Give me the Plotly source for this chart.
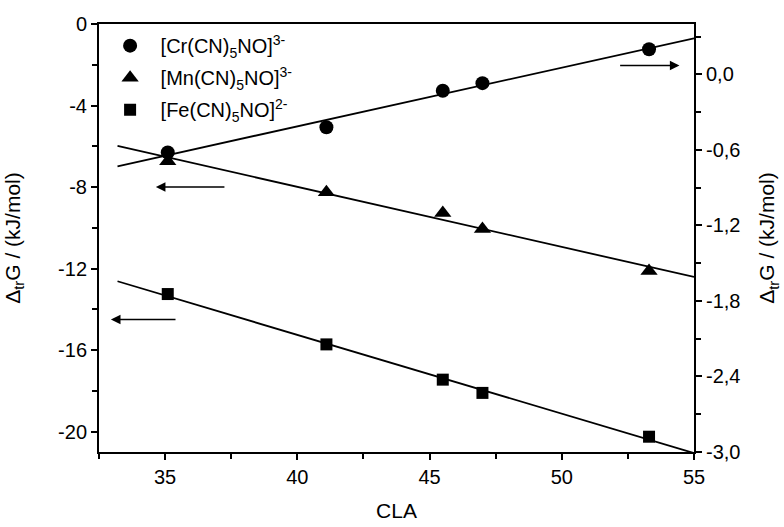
import numpy as np
import plotly.graph_objects as go

# ---- data ----
cla = [35.1, 41.1, 45.5, 47.0, 53.3]
cr_dG = [-0.62, -0.42, -0.13, -0.07, 0.20]        # right axis
mn_dG = [-6.73, -8.25, -9.27, -10.06, -12.12]     # left axis
fe_dG = [-13.25, -15.72, -17.45, -18.10, -20.25]  # left axis

names = ["[Cr(CN)<sub>5</sub>NO]<sup>3-</sup>",
         "[Mn(CN)<sub>5</sub>NO]<sup>3-</sup>",
         "[Fe(CN)<sub>5</sub>NO]<sup>2-</sup>"]

x_ticks = [35, 40, 45, 50, 55]
x_ticklabels = ["35", "40", "45", "50", "55"]
left_ticks = [0, -4, -8, -12, -16, -20]
left_ticklabels = ["0", "-4", "-8", "-12", "-16", "-20"]
right_ticks = [0.0, -0.6, -1.2, -1.8, -2.4, -3.0]
right_ticklabels = ["0,0", "-0,6", "-1,2", "-1,8", "-2,4", "-3,0"]

fit_range = [33.2, 55.0]

FONT = "Arial, Liberation Sans, sans-serif"

fig = go.Figure()

def fit_line(y, yaxis):
    k, b = np.polyfit(cla, y, 1)
    xs = np.array(fit_range)
    fig.add_trace(go.Scatter(x=xs, y=k * xs + b, mode="lines", yaxis=yaxis,
                             line=dict(color="black", width=1.8),
                             showlegend=False, hoverinfo="skip"))

fit_line(cr_dG, "y2")
fit_line(mn_dG, "y")
fit_line(fe_dG, "y")

fig.add_trace(go.Scatter(x=cla, y=cr_dG, mode="markers", yaxis="y2", name=names[0], legendgroup="a",
                         marker=dict(symbol="circle", size=14, color="black")))
fig.add_trace(go.Scatter(x=cla, y=mn_dG, mode="markers", yaxis="y", name=names[1], legendgroup="b",
                         marker=dict(symbol="triangle-up", size=15, color="black")))
fig.add_trace(go.Scatter(x=cla, y=fe_dG, mode="markers", yaxis="y", name=names[2], legendgroup="c",
                         marker=dict(symbol="square", size=12, color="black")))

# arrows pointing to the relevant axis
arrow_style = dict(showarrow=True, arrowhead=2, arrowsize=1.2, arrowwidth=1.6,
                   arrowcolor="black", text="", axref="x")
fig.add_annotation(x=54.45, y=0.07, ax=52.15, ay=0.07, xref="x", yref="y2", ayref="y2", **arrow_style)
fig.add_annotation(x=34.65, y=-8.0, ax=37.3, ay=-8.0, xref="x", yref="y", ayref="y", **arrow_style)
fig.add_annotation(x=32.95, y=-14.5, ax=35.45, ay=-14.5, xref="x", yref="y", ayref="y", **arrow_style)

axis_common = dict(showline=True, linecolor="black", linewidth=2, showgrid=False,
                   zeroline=False, ticks="outside", ticklen=6, tickwidth=1.5, automargin=False,
                   tickcolor="black", tickfont=dict(family=FONT, size=20, color="black"))

fig.update_layout(
    template="none",
    width=784, height=527,
    margin=dict(l=99, r=90, t=24, b=75, pad=0),
    paper_bgcolor="white", plot_bgcolor="white",
    font=dict(family=FONT, size=20, color="black"),
    xaxis=dict(range=[32.5, 55], tickmode="array", tickvals=x_ticks, ticktext=x_ticklabels,
               mirror=True,
               minor=dict(tickmode="linear", tick0=32.5, dtick=2.5, ticks="outside",
                          ticklen=5, tickwidth=1.5, tickcolor="black"),
               title=dict(text="CLA", font=dict(family=FONT, size=21), standoff=16),
               **axis_common),
    yaxis=dict(range=[-21, 0], tickmode="array", tickvals=left_ticks, ticktext=left_ticklabels,
               minor=dict(tickmode="linear", tick0=0, dtick=2, ticks="outside",
                          ticklen=5, tickwidth=1.5, tickcolor="black"),
               title=dict(text="Δ<sub>tr</sub>G / (kJ/mol)", font=dict(family=FONT, size=21), standoff=32),
               **axis_common),
    yaxis2=dict(range=[-3.0, 0.4], overlaying="y", side="right",
                tickmode="array", tickvals=right_ticks, ticktext=right_ticklabels,
                minor=dict(tickmode="linear", tick0=0, dtick=0.3, ticks="outside",
                           ticklen=5, tickwidth=1.5, tickcolor="black"),
                title=dict(text="Δ<sub>tr</sub>G / (kJ/mol)", font=dict(family=FONT, size=21), standoff=20),
                **axis_common),
    legend=dict(x=0.001, y=0.995, xanchor="left", yanchor="top",
                bgcolor="rgba(0,0,0,0)", borderwidth=0, itemwidth=51,
                font=dict(family=FONT, size=20, color="black"), tracegroupgap=3),
    showlegend=True,
)

fig.write_html("out.html", config={"displayModeBar": False},
               post_script="document.body.style.margin='0px';")
